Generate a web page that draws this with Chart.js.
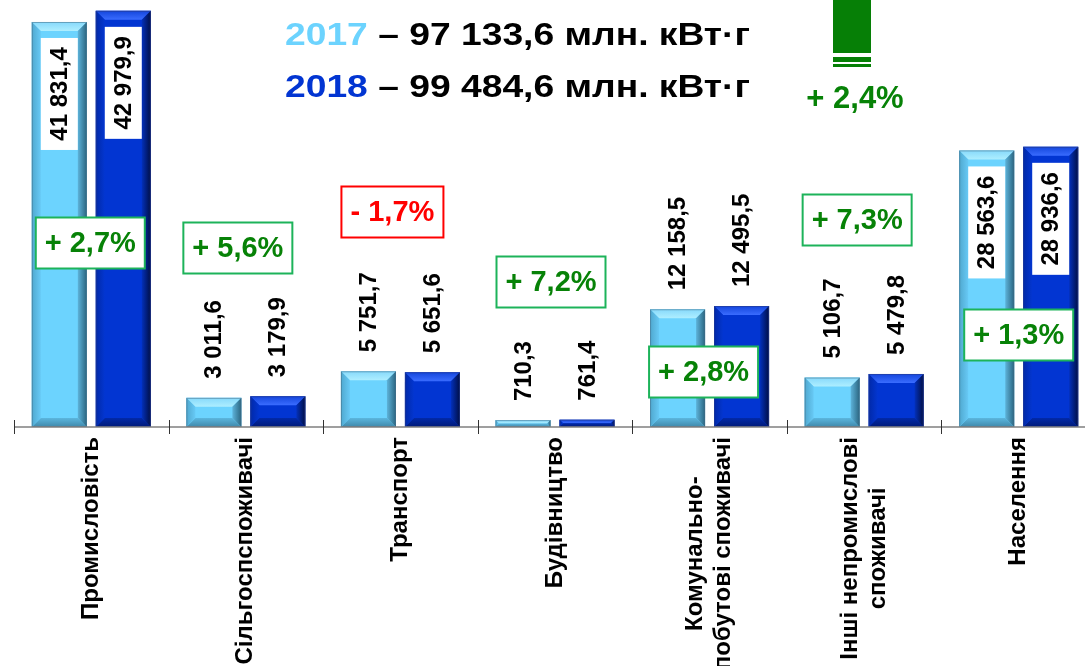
<!DOCTYPE html>
<html><head><meta charset="utf-8">
<script src="https://cdn.jsdelivr.net/npm/chart.js@4"></script>
<style>
html,body{margin:0;padding:0;background:#fff;overflow:hidden;width:1085px;height:666px}
#wrap{position:relative;width:1096px;height:666px}
</style>
</head><body><div id="wrap"><canvas id="c" width="1096" height="666"></canvas></div>
<script>
// ---- data ----
const categories = [
  ['Промисловість'],
  ['Сільгоспспоживачі'],
  ['Транспорт'],
  ['Будівництво'],
  ['Комунально-', 'побутові споживачі'],
  ['Інші непромислові', 'споживачі'],
  ['Населення']
];
const years = ['2017', '2018'];
const values2017 = [41831.4, 3011.6, 5751.7, 710.3, 12158.5, 5106.7, 28563.6];
const values2018 = [42979.9, 3179.9, 5651.6, 761.4, 12495.5, 5479.8, 28936.6];
const valueLabels2017 = ['41 831,4', '3 011,6', '5 751,7', '710,3', '12 158,5', '5 106,7', '28 563,6'];
const valueLabels2018 = ['42 979,9', '3 179,9', '5 651,6', '761,4', '12 495,5', '5 479,8', '28 936,6'];
const changeLabels = ['+ 2,7%', '+ 5,6%', '- 1,7%', '+ 7,2%', '+ 2,8%', '+ 7,3%', '+ 1,3%'];
const totals = ['97 133,6', '99 484,6'];
const totalUnit = 'млн. кВт·г';
const totalChange = '+ 2,4%';

// ---- layout / style (not data) ----
const FONT = '"Liberation Sans", Arial, Helvetica, sans-serif';
const yMax = 44100;
const badgeLayout = [
  {dx: -1, cy: 243}, {dx: -8, cy: 248}, {dx: -8, cy: 212}, {dx: -4, cy: 282},
  {dx: -6, cy: 372}, {dx: -7, cy: 220}, {dx: 0, cy: 335}
];
const faceColors = ['#6CD3FE', '#0235D2'];
const bevels = [
  {top: ['#86D9FB', '#AEEEFF'], left: ['#4FA8CF', '#67C9F5'], right: ['#2A6580', '#5DB3DA'], bottom: ['#3F88AA', '#5BB6DE'], edge: 'rgba(70,110,135,0.55)'},
  {top: ['#1446DC', '#3A6CFF'], left: ['#0129A8', '#0336D0'], right: ['#000E45', '#0330BA'], bottom: ['#001A78', '#0229A8'], edge: 'rgba(40,60,140,0.6)'}
];

function poly(ctx, pts, fill) {
  ctx.beginPath();
  ctx.moveTo(pts[0][0], pts[0][1]);
  for (let i = 1; i < pts.length; i++) ctx.lineTo(pts[i][0], pts[i][1]);
  ctx.closePath();
  ctx.fillStyle = fill;
  ctx.fill();
}
function grad(ctx, x0, y0, x1, y1, c) {
  const g = ctx.createLinearGradient(x0, y0, x1, y1);
  g.addColorStop(0, c[0]);
  g.addColorStop(1, c[1]);
  return g;
}

const overlay = {
  id: 'overlay',
  afterDatasetsDraw(chart) {
    const ctx = chart.ctx;
    const xs = chart.scales.x;
    const area = chart.chartArea;
    ctx.save();
    // bevels on bars
    chart.data.datasets.forEach((ds, di) => {
      const meta = chart.getDatasetMeta(di);
      const pal = bevels[di];
      meta.data.forEach((bar) => {
        const p = bar.getProps(['x', 'y', 'base', 'width'], true);
        const l = p.x - p.width / 2, r = p.x + p.width / 2, t = p.y, b = p.base;
        const d = Math.min(9, (b - t) / 2);
        poly(ctx, [[l, t], [r, t], [r - d, t + d], [l + d, t + d]], grad(ctx, 0, t, 0, t + d, pal.top));
        poly(ctx, [[l, b], [r, b], [r - d, b - d], [l + d, b - d]], grad(ctx, 0, b, 0, b - d, pal.bottom));
        poly(ctx, [[l, t], [l + d, t + d], [l + d, b - d], [l, b]], grad(ctx, l, 0, l + d, 0, pal.left));
        poly(ctx, [[r, t], [r - d, t + d], [r - d, b - d], [r, b]], grad(ctx, r, 0, r - d, 0, pal.right));
        ctx.strokeStyle = pal.edge;
        ctx.lineWidth = 1;
        ctx.strokeRect(l + 0.5, t + 0.5, r - l - 1, b - t - 1);
      });
    });

    // axis line + ticks
    const y0 = area.bottom;
    ctx.strokeStyle = '#7F7F7F';
    ctx.lineWidth = 1.5;
    ctx.beginPath();
    ctx.moveTo(area.left, y0);
    ctx.lineTo(area.right, y0);
    ctx.stroke();
    ctx.strokeStyle = '#333';
    ctx.lineWidth = 1;
    for (let i = 0; i <= categories.length; i++) {
      const x = Math.round(xs.getPixelForValue(i - 0.5)) + 0.5;
      ctx.beginPath();
      ctx.moveTo(x, y0 - 7);
      ctx.lineTo(x, y0 + 7);
      ctx.stroke();
    }

    // category labels (rotated, block centered)
    ctx.fillStyle = '#000';
    ctx.font = 'bold 24px ' + FONT;
    categories.forEach((lines, i) => {
      const x = xs.getPixelForValue(i);
      const w = Math.max(...lines.map(s => ctx.measureText(s).width));
      ctx.save();
      ctx.translate(x, y0 + 10);
      ctx.rotate(-Math.PI / 2);
      ctx.textAlign = 'center';
      ctx.textBaseline = 'middle';
      lines.forEach((s, k) => {
        ctx.fillText(s, -w / 2, (k - (lines.length - 1) / 2) * 28);
      });
      ctx.restore();
    });

    // value labels
    const labelSets = [valueLabels2017, valueLabels2018];
    ctx.font = 'bold 24px ' + FONT;
    chart.data.datasets.forEach((ds, di) => {
      const meta = chart.getDatasetMeta(di);
      meta.data.forEach((bar, i) => {
        const p = bar.getProps(['x', 'y'], true);
        const txt = labelSets[di][i];
        ctx.save();
        if (ds.data[i] > 20000) {
          const bw = 37, bh = 112;
          const top = p.y + 16;
          ctx.fillStyle = '#fff';
          ctx.fillRect(p.x - bw / 2, top, bw, bh);
          ctx.translate(p.x + 1, top + bh / 2);
          ctx.rotate(-Math.PI / 2);
          ctx.textAlign = 'center';
          ctx.textBaseline = 'middle';
          ctx.fillStyle = '#000';
          ctx.fillText(txt, 0, 0);
        } else {
          ctx.translate(p.x + 1, p.y - 19);
          ctx.rotate(-Math.PI / 2);
          ctx.textAlign = 'left';
          ctx.textBaseline = 'middle';
          ctx.fillStyle = '#000';
          ctx.fillText(txt, 0, 0);
        }
        ctx.restore();
      });
    });

    // change badges
    changeLabels.forEach((s, i) => {
      ctx.font = 'bold 30px ' + FONT;
      const neg = s.trim().startsWith('-');
      const cx = xs.getPixelForValue(i) + badgeLayout[i].dx;
      const cy = badgeLayout[i].cy;
      const tw = ctx.measureText(s).width;
      const bw = (neg ? 102 : 109), bh = 51;
      ctx.fillStyle = '#fff';
      ctx.fillRect(cx - bw / 2, cy - bh / 2, bw, bh);
      ctx.strokeStyle = neg ? '#FF0000' : '#1DB35A';
      ctx.lineWidth = 2;
      ctx.strokeRect(cx - bw / 2, cy - bh / 2, bw, bh);
      ctx.fillStyle = neg ? '#FF0000' : '#078207';
      ctx.textAlign = 'center';
      ctx.textBaseline = 'middle';
      const sx = Math.min(1, (bw - 18) / tw);
      ctx.save();
      ctx.translate(cx, cy + 1);
      ctx.scale(sx, 1);
      ctx.fillText(s, 0, 0);
      ctx.restore();
    });

    // totals legend (horizontally stretched like the reference)
    ctx.font = 'bold 31px ' + FONT;
    ctx.textAlign = 'left';
    ctx.textBaseline = 'alphabetic';
    [[285, 45], [285, 97]].forEach((pos, k) => {
      const rest = ' – ' + totals[k] + ' ' + totalUnit;
      const w0 = ctx.measureText(years[k]).width;
      const wAll = w0 + ctx.measureText(rest).width;
      const sx = 465 / wAll;
      ctx.save();
      ctx.translate(pos[0], pos[1]);
      ctx.scale(sx, 1);
      ctx.fillStyle = faceColors[k];
      ctx.fillText(years[k], 0, 0);
      ctx.fillStyle = '#000';
      ctx.fillText(rest, w0, 0);
      ctx.restore();
    });

    // total change icon + text
    ctx.fillStyle = '#067F06';
    ctx.fillRect(833, 0, 38, 53);
    ctx.fillRect(833, 57, 38, 5);
    ctx.fillRect(833, 64, 38, 3);
    ctx.font = 'bold 31px ' + FONT;
    ctx.textAlign = 'center';
    ctx.textBaseline = 'middle';
    ctx.fillStyle = '#078207';
    ctx.fillText(totalChange, 855, 99);
    ctx.restore();
  }
};

new Chart(document.getElementById('c'), {
  type: 'bar',
  data: {
    labels: categories,
    datasets: [
      {label: years[0], data: values2017, backgroundColor: faceColors[0], borderWidth: 0},
      {label: years[1], data: values2018, backgroundColor: faceColors[1], borderWidth: 0}
    ]
  },
  options: {
    responsive: false,
    animation: false,
    devicePixelRatio: 1,
    layout: {padding: {left: 14, right: 0, top: 0, bottom: 239}},
    datasets: {bar: {categoryPercentage: 0.828, barPercentage: 0.86}},
    plugins: {legend: {display: false}, tooltip: {enabled: false}, title: {display: false}},
    scales: {
      x: {display: false},
      y: {display: false, min: 0, max: yMax}
    }
  },
  plugins: [overlay]
});
</script>
</body></html>
